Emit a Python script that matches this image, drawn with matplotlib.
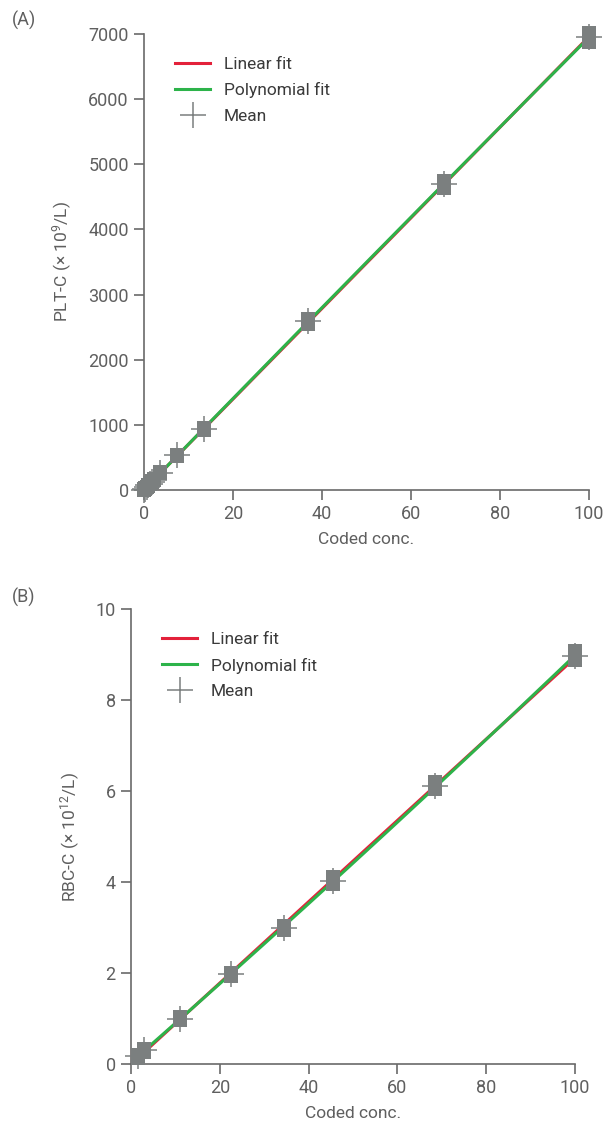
import numpy as np
import matplotlib
matplotlib.use("Agg")
import matplotlib.pyplot as plt

plt.rcParams['font.family'] = ['Roboto', 'DejaVu Sans']
plt.rcParams['font.weight'] = 'normal'
plt.rcParams['axes.labelweight'] = 'normal'
plt.rcParams['mathtext.fontset'] = 'custom'
plt.rcParams['mathtext.rm'] = 'Roboto'
plt.rcParams['mathtext.it'] = 'Roboto'
plt.rcParams['mathtext.default'] = 'rm'

# Panel A data (PLT-C)
plt_x = [0.0, 0.3, 0.6, 1.0, 1.4, 1.8, 2.3, 3.7, 7.5, 13.5, 36.8, 67.4, 100.0]
plt_mean = [5, 22, 42, 70, 98, 125, 160, 265, 530, 940, 2590, 4690, 6950]
plt_reps = [
    [0, 5, 10], [18, 22, 26], [38, 42, 46], [65, 70, 75], [92, 98, 104],
    [120, 125, 130], [155, 160, 165], [255, 265, 275], [520, 530, 540],
    [925, 940, 955], [2550, 2590, 2630], [4640, 4690, 4740], [6880, 6950, 7020],
]

# Panel B data (RBC-C)
rbc_x = [1.5, 3.0, 11.0, 22.5, 34.5, 45.5, 68.5, 100.0]
rbc_mean = [0.17, 0.30, 1.00, 1.97, 2.99, 4.03, 6.12, 8.97]
rbc_reps = [
    [0.14, 0.17, 0.20], [0.27, 0.30, 0.33], [0.97, 1.00, 1.03], [1.94, 1.97, 2.00],
    [2.94, 2.99, 3.04], [3.96, 4.03, 4.10], [6.04, 6.12, 6.20], [8.87, 8.97, 9.07],
]

RED = '#e3213a'
GREEN = '#2db34a'
GRAY = '#7b7f7f'
TXT = '#5f5f5f'
SPINE = '#6a6a6a'

fig = plt.figure(figsize=(6.14, 11.31), dpi=100)
axA = fig.add_axes([0.2345, 0.5668, 0.7248, 0.4032])
axB = fig.add_axes([0.2134, 0.0592, 0.7231, 0.4023])


def draw(ax, xs, means, reps, ylim, yticks, ylabel):
    xs = np.array(xs, float)
    means = np.array(means, float)
    xx = np.linspace(xs.min(), xs.max(), 200)
    lin = np.polyfit(xs, means, 1)
    poly = np.polyfit(xs, means, 2)
    ax.plot(xx, np.polyval(lin, xx), color=RED, lw=2.2, label='Linear fit', zorder=2)
    ax.plot(xx, np.polyval(poly, xx), color=GREEN, lw=2.2, label='Polynomial fit', zorder=3)
    for x, r in zip(xs, reps):
        ax.plot([x] * len(r), r, 's', color=GRAY, ms=10, mew=0, clip_on=False, zorder=4)
    ax.plot(xs, means, '+', color=GRAY, ms=19, mew=1.1, clip_on=False, zorder=5, label='Mean')
    ax.set_xlim(0, 100)
    ax.set_ylim(*ylim)
    ax.set_xticks([0, 20, 40, 60, 80, 100])
    ax.set_yticks(yticks)
    for s in ['top', 'right']:
        ax.spines[s].set_visible(False)
    for s in ['left', 'bottom']:
        ax.spines[s].set_color(SPINE)
        ax.spines[s].set_linewidth(1.2)
    ax.tick_params(direction='out', length=7, width=1.2, color=SPINE,
                   labelcolor=TXT, labelsize=13, pad=4)
    ax.set_xlabel('Coded conc.', color=TXT, fontsize=12.5, labelpad=6)
    ax.set_ylabel(ylabel, color=TXT, fontsize=12.5, labelpad=10)
    leg = ax.legend(loc='upper left', bbox_to_anchor=(0.055, 0.965), frameon=False,
                    fontsize=12.5, handlelength=2.0, handletextpad=0.8,
                    labelspacing=0.6, borderaxespad=0)
    for t in leg.get_texts():
        t.set_color('#3a3a3a')


draw(axA, plt_x, plt_mean, plt_reps, (0, 7000), range(0, 7001, 1000),
     'PLT-C (× 10$^{9}$/L)')
draw(axB, rbc_x, rbc_mean, rbc_reps, (0, 10), range(0, 11, 2),
     'RBC-C (× 10$^{12}$/L)')

fig.text(12 / 614, 1 - 20 / 1131, '(A)', color=TXT, fontsize=13, va='center', ha='left')
fig.text(12 / 614, 1 - 597 / 1131, '(B)', color=TXT, fontsize=13, va='center', ha='left')

fig.savefig('out.png', dpi=100)
